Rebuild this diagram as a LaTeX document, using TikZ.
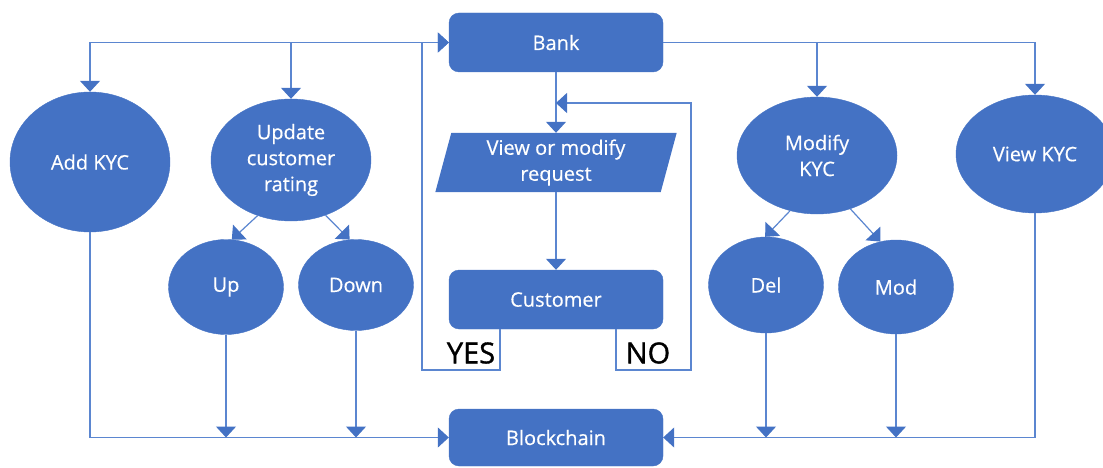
\documentclass[tikz,border=0pt]{standalone}
\usepackage{fontspec}
\setmainfont{Open Sans}
\newfontfamily\lblfont[FakeBold=1.2]{Open Sans}
\newfontfamily\nodefont[FakeBold=0.4]{Open Sans}
\usetikzlibrary{shapes.geometric,arrows.meta,backgrounds,calc}
\definecolor{nblue}{HTML}{4472C4}
\definecolor{lblue}{HTML}{5B86D0}
\tikzset{
  box/.style={rectangle, rounded corners=10pt, fill=nblue, draw=nblue, text=white,
    minimum width=214pt, minimum height=59pt, inner sep=0pt,
    font=\nodefont\fontsize{20}{26}\selectfont, align=center},
  oval/.style={ellipse, fill=nblue, draw=nblue, text=white, inner sep=0pt,
    font=\nodefont\fontsize{20}{26}\selectfont, align=center},
  conn/.style={draw=lblue, line width=1.2pt},
  arr/.style={conn, -{Triangle[width=20pt,length=11pt,fill=nblue,color=nblue]}},
  lbl/.style={text=black, font=\lblfont\fontsize{29}{32}\selectfont, inner sep=0pt}
}
\begin{document}
\begin{tikzpicture}[x=1pt,y=-1pt]
\useasboundingbox (0,0) rectangle (1103,468);
% main boxes
\node[box] (bank) at (556,42.5) {Bank};
\node[box] (cust) at (556,299.5) {Customer};
\node[box, minimum height=57pt] (blk) at (556,437.5) {Blockchain};
\node[rectangle, minimum width=225pt, minimum height=59pt, inner sep=0pt, text=white,
  font=\nodefont\fontsize{20}{26}\selectfont, align=center] (req) at (556,162.5) {\raisebox{-2pt}{View or modify}\\\raisebox{-2pt}{request}};
\begin{scope}[on background layer]
\fill[nblue] ($(req.south west)+(-8,0)$) -- ($(req.north west)+(8,0)$) -- ($(req.north east)+(8,0)$) -- ($(req.south east)+(-8,0)$) -- cycle;
\end{scope}
% ellipses
\node[oval, minimum width=160pt, minimum height=140pt] (add) at (90,162) {Add KYC};
\node[oval, minimum width=160pt, minimum height=122pt] (upd) at (291,160) {\raisebox{-3pt}{Update}\\\raisebox{-3pt}{customer}\\\raisebox{-3pt}{rating}};
\node[oval, minimum width=115pt, minimum height=95pt] (up) at (226,287) {Up};
\node[oval, minimum width=115pt, minimum height=91pt] (down) at (356,285) {Down};
\node[oval, minimum width=160pt, minimum height=117pt] (modk) at (817,155.5) {\raisebox{-2pt}{Modify}\\\raisebox{-2pt}{KYC}};
\node[oval, minimum width=158pt, minimum height=118pt] (view) at (1035,154) {\raisebox{-1pt}{View KYC}};
\node[oval, minimum width=115pt, minimum height=96pt] (del) at (766,285) {Del};
\node[oval, minimum width=115pt, minimum height=94pt] (mod) at (896,287) {Mod};
% labels
\node[lbl] (yes) at (471,353) {YES};
\node[lbl] (no) at (648,353) {NO};
% coordinates
\coordinate (tl) at (90,42.5);
\coordinate (y1) at (500,370);
\coordinate (y2) at (422,370);
\coordinate (y3) at (422,42.5);
\coordinate (n1) at (616,370);
\coordinate (n2) at (691,370);
\coordinate (n3) at (691,103);
\coordinate (n4) at (556,103);
% top connectors
\draw[arr] (tl) -- (bank.west);
\draw[arr] (tl) -- (add.north);
\draw[arr] (upd.north |- bank.west) -- (upd.north);
\draw[conn] (bank.east) -- (view.north |- bank.east);
\draw[arr] (view.north |- bank.east) -- (view.north);
\draw[arr] (modk.north |- bank.east) -- (modk.north);
\draw[arr] (bank.south) -- (req.north);
\draw[arr] (req.south) -- (cust.north);
% loops
\draw[arr] (cust.south -| y1) -- (y1) -- (y2) -- (y3) -- (bank.west);
\draw[arr] (cust.south -| n1) -- (n1) -- (n2) -- (n3) -- (n4);
% branches
\draw[arr] (upd.239) -- (up.83);
\draw[arr] (upd.302) -- (down.98);
\draw[arr] (modk.244) -- (del.91);
\draw[arr] (modk.302) -- (mod.109);
% bottom
\draw[arr] (add.south) -- (add.south |- blk.west) -- (blk.west);
\draw[arr] (view.south) -- (view.south |- blk.east) -- (blk.east);
\draw[arr] (up.south) -- (up.south |- blk.west);
\draw[arr] (down.south) -- (down.south |- blk.west);
\draw[arr] (del.south) -- (del.south |- blk.east);
\draw[arr] (mod.south) -- (mod.south |- blk.east);
\end{tikzpicture}
\end{document}
